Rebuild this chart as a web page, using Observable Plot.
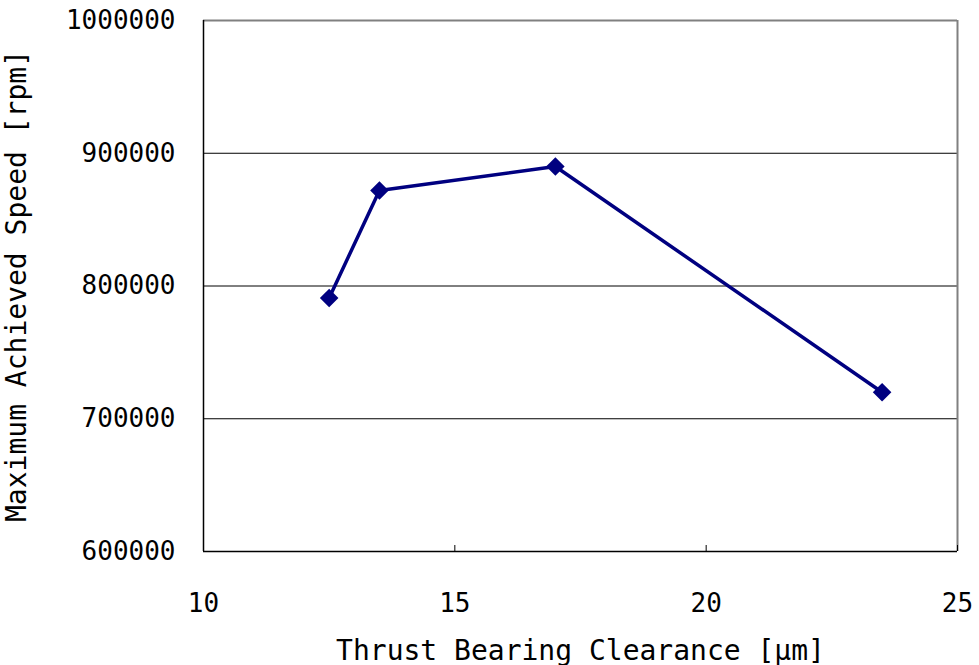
<!DOCTYPE html>
<html>
<head>
<meta charset="utf-8">
<script src="https://cdn.jsdelivr.net/npm/d3@7"></script>
<script src="https://cdn.jsdelivr.net/npm/@observablehq/plot@0.6"></script>
<style>
  html, body { margin: 0; padding: 0; background: white; }
  g[aria-label="x-axis label"] text, g[aria-label="y-axis label"] text { font-size: 28px; }
</style>
</head>
<body>
<div id="chart"></div>
<script>
const clearance = [12.5, 13.5, 17, 23.5];
const speed = [791000, 872000, 890000, 720000];
const xTicks = [10, 15, 20, 25];
const yTicks = [600000, 700000, 800000, 900000, 1000000];
const gridValues = [700000, 800000, 900000];
const xLabel = "Thrust Bearing Clearance [μm]";
const yLabel = "Maximum Achieved Speed [rpm]";

const data = clearance.map((c, i) => ({x: c, y: speed[i]}));

const chart = Plot.plot({
  width: 979,
  height: 665,
  marginLeft: 203,
  marginRight: 22,
  marginTop: 20,
  marginBottom: 114,
  x: {domain: [10, 25]},
  y: {domain: [600000, 1000000]},
  style: {fontFamily: "DejaVu Sans Mono", fontSize: "26px", background: "white", color: "black"},
  marks: [
    Plot.ruleY(gridValues, {stroke: "black", strokeWidth: 1}),
    Plot.ruleY([1000000], {stroke: "#808080", strokeWidth: 2}),
    Plot.ruleX([25], {stroke: "#808080", strokeWidth: 2}),
    Plot.ruleX([10], {stroke: "black", strokeWidth: 1.5}),
    Plot.ruleY([600000], {stroke: "black", strokeWidth: 1.5}),
    Plot.axisX({ticks: xTicks, tickSize: -6, tickPadding: 48, tickFormat: d => String(d),
      label: xLabel, labelAnchor: "center", labelArrow: "none", labelOffset: 108}),
    Plot.axisY({ticks: yTicks, tickSize: 0, tickPadding: 28, tickFormat: d => String(d),
      label: yLabel, labelAnchor: "center", labelArrow: "none", labelOffset: 197}),
    Plot.line(data, {x: "x", y: "y", stroke: "#000080", strokeWidth: 3.5}),
    Plot.dot(data, {x: "x", y: "y", symbol: "square", r: 7.4, rotate: 45, fill: "#000080", stroke: "none"})
  ]
});
document.getElementById("chart").appendChild(chart);
</script>
</body>
</html>
